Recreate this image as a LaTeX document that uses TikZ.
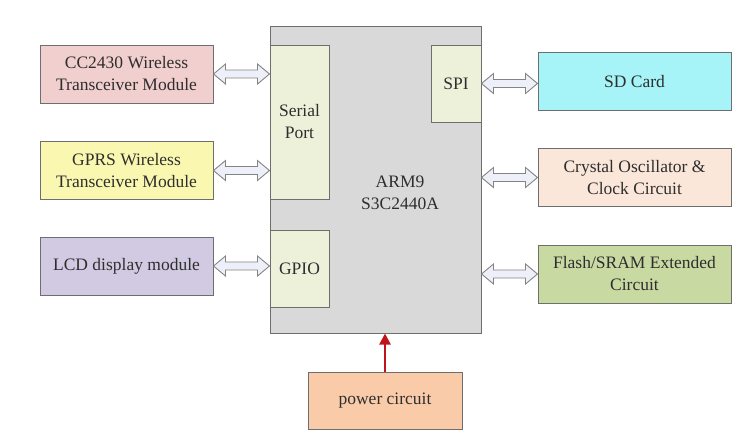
\documentclass[tikz,border=0pt]{standalone}
\usepackage{fontspec}
\setmainfont{Liberation Serif}
\usetikzlibrary{arrows.meta, calc}
\definecolor{edge}{HTML}{6E6E6E}
\definecolor{ink}{HTML}{2E2E2E}
\definecolor{armgray}{HTML}{D9D9D9}
\definecolor{port}{HTML}{EEF1DA}
\definecolor{pinkc}{HTML}{F1CFCE}
\definecolor{yellc}{HTML}{FAF8B0}
\definecolor{lilac}{HTML}{D2CAE2}
\definecolor{cyanc}{HTML}{A6F4F7}
\definecolor{peach}{HTML}{FBE7DA}
\definecolor{moss}{HTML}{C9D9A2}
\definecolor{orang}{HTML}{FACBA8}
\definecolor{pwrred}{HTML}{C0141C}
\definecolor{busfill}{HTML}{EDF0F8}

\begin{document}
\begin{tikzpicture}[
  x=1pt, y=-1pt,
  font=\fontsize{17.5}{22}\selectfont,
  blk/.style={draw=edge, line width=1pt, fill=#1, text=ink, align=center,
              inner sep=0pt, minimum width=173pt, minimum height=58pt},
  rblk/.style={blk=#1, minimum width=193pt},
  portbox/.style={draw=edge, line width=1pt, fill=port, text=ink,
                  align=center, inner sep=0pt},
  % hollow two-headed bus arrow, drawn left to right
  bus/.style={draw=edge!85, fill=busfill, line width=0.9pt, line join=miter,
    to path={let \p1=(\tikztostart), \p2=(\tikztotarget) in
      (\x1,\y1) -- (\x1+12pt,\y1+10pt) -- (\x1+12pt,\y1+4pt)
      -- (\x2-12pt,\y1+4pt) -- (\x2-12pt,\y1+10pt) -- (\x2,\y1)
      -- (\x2-12pt,\y1-10pt) -- (\x2-12pt,\y1-4pt) -- (\x1+12pt,\y1-4pt)
      -- (\x1+12pt,\y1-10pt) -- cycle}},
  pwr/.style={pwrred, line width=2.4pt, -{Triangle[length=11pt, width=11pt]}},
]
\useasboundingbox (0,0) rectangle (749,432);

% ─── processor + its ports ──────────────────────────────────────────────────
\node[draw=edge, line width=1pt, fill=armgray, inner sep=0pt,
      minimum width=211pt, minimum height=307pt] (arm) at (375.5, 179.5) {};
\node[text=ink, align=center] (armlbl) at (400, 193) {ARM9\\S3C2440A};
\node[portbox, minimum width=59pt, minimum height=154pt] (serial)
      at (299.5, 122) {Serial\\Port};
\node[portbox, minimum width=59pt, minimum height=77pt] (gpio)
      at (299.5, 268.5) {GPIO};
\node[portbox, minimum width=50pt, minimum height=77pt] (spi)
      at (456, 83.5) {SPI};

% ─── left peripherals ───────────────────────────────────────────────────────
\node[blk=pinkc] (cc)   at (126.5, 74)    {CC2430 Wireless\\Transceiver Module};
\node[blk=yellc] (gprs) at (126.5, 170.5) {GPRS Wireless\\Transceiver Module};
\node[blk=lilac] (lcd)  at (126.5, 266)   {LCD display module};

% ─── right peripherals ──────────────────────────────────────────────────────
\node[rblk=cyanc] (sd)    at (634.5, 81.5)  {SD Card};
\node[rblk=peach] (xtal)  at (634.5, 177.5) {Crystal Oscillator \&\\Clock Circuit};
\node[rblk=moss]  (flash) at (634.5, 274)   {Flash/SRAM Extended\\Circuit};

% ─── power ──────────────────────────────────────────────────────────────────
\node[blk=orang, minimum width=154pt, minimum height=57pt] (power)
      at (385, 400.5) {power circuit};

% ─── buses ──────────────────────────────────────────────────────────────────
\draw[bus] (cc.east)   to (cc.east -| serial.west);
\draw[bus] (gprs.east) to (gprs.east -| serial.west);
\draw[bus] (lcd.east)  to (lcd.east -| gpio.west);
\draw[bus] (spi.east)  to (spi.east -| sd.west);
\draw[bus] (xtal.west -| arm.east)  to (xtal.west);
\draw[bus] (flash.west -| arm.east) to (flash.west);

\draw[pwr] (power.north) -- (power.north |- arm.south);

\end{tikzpicture}
\end{document}
